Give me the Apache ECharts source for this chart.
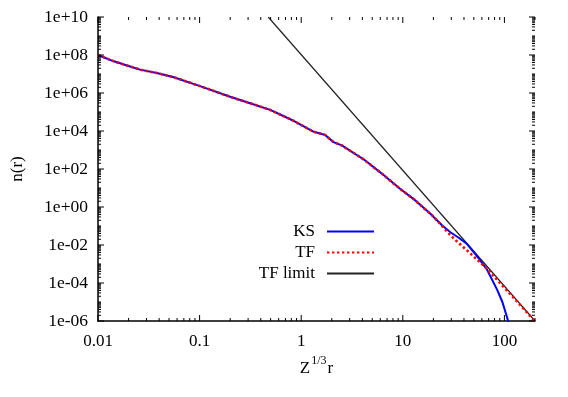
<!DOCTYPE html>
<html>
<head>
<meta charset="utf-8">
<script src="https://cdn.jsdelivr.net/npm/echarts@6/dist/echarts.min.js"></script>
<style>html,body{margin:0;padding:0;background:#fff;}#c{width:568px;height:397px;}</style>
</head>
<body>
<div id="c"></div>
<script>
// Data (x = Z^{1/3} r, y = n(r))
var ksX = [0.01, 0.0141, 0.0207, 0.0259, 0.0379, 0.0548, 0.101, 0.2, 0.314, 0.495, 0.81, 1.33, 1.6, 1.72, 2.08, 2.51, 3.81, 4.11, 6.47, 9.44, 12.8, 18.7, 20.1, 24.3, 29.4, 35.5, 42.9, 53.7, 67.5, 84.7, 95.5, 106, 110];
var ksY = [1.0e8, 4.8e7, 2.5e7, 1.7e7, 1.12e7, 7.0e6, 2.3e6, 6.3e5, 2.9e5, 1.3e5, 3.8e4, 9.1e3, 6.9e3, 6.2e3, 2.6e3, 1.74e3, 417, 324, 48, 8.9, 2.6, 0.44, 0.30, 0.11, 0.047, 0.024, 0.0112, 0.0026, 5.0e-4, 4.5e-5, 1.0e-5, 1.6e-6, 8e-7];
var tfX = [0.01, 0.0141, 0.0207, 0.0259, 0.0379, 0.0548, 0.101, 0.2, 0.314, 0.495, 0.81, 1.33, 1.6, 1.72, 2.08, 2.51, 3.81, 4.11, 6.47, 9.44, 12.8, 15.8, 20.1, 25.1, 31.6, 46.2, 67.5, 91.2, 133, 195, 200];
var tfY = [1.0e8, 4.8e7, 2.5e7, 1.7e7, 1.12e7, 7.0e6, 2.3e6, 6.3e5, 2.9e5, 1.3e5, 3.8e4, 9.1e3, 6.9e3, 6.2e3, 2.6e3, 1.74e3, 417, 324, 48, 8.9, 2.6, 0.95, 0.31, 0.083, 0.0224, 0.0036, 5.6e-4, 9.5e-5, 1.07e-5, 1.1e-6, 9.1e-7];
var limX = [0.473, 200];
var limY = [1e10, 1e-6];
var seriesNames = ['KS', 'TF', 'TF limit'];
var xMin = 0.01, xMax = 200, yMin = 1e-6, yMax = 1e10;

function pairs(xs, ys) { var out = []; for (var i = 0; i < xs.length; i++) out.push([xs[i], ys[i]]); return out; }

// tick positions (axis decoration)
var xTicks = [];
for (var k = -2; k <= 2; k++) {
  for (var m = 1; m <= 9; m++) {
    var v = m * Math.pow(10, k);
    if (v > xMax * 1.0001) continue;
    xTicks.push([v, yMin, m === 1 ? 1 : 0]);
  }
}
var yTicks = [];
for (var k2 = -6; k2 <= 10; k2++) {
  for (var m2 = 1; m2 <= 9; m2++) {
    if (k2 === 10 && m2 > 1) continue;
    var v2 = m2 * Math.pow(10, k2);
    var major = (m2 === 1 && k2 % 2 === 0) ? 1 : 0;
    yTicks.push([xMin, v2, major]);
  }
}

var FONT = 'Liberation Serif';
function isPow10(v) { var l = Math.log10(v); return Math.abs(l - Math.round(l)) < 1e-6; }

var chart = echarts.init(document.getElementById('c'), null, { renderer: 'canvas' });
var legendCommon = {
  orient: 'vertical', align: 'right', itemWidth: 47, itemHeight: 12,
  itemStyle: { opacity: 0 },
  textStyle: { fontFamily: FONT, fontSize: 17, color: '#000', padding: [0, 7, 0, 0] },
  selectedMode: false, padding: 0
};
chart.setOption({
  animation: false,
  backgroundColor: '#fff',
  grid: { left: 98, right: 33, top: 17, bottom: 76, containLabel: false },
  legend: [
    Object.assign({ data: [seriesNames[0]], right: 193, top: 223 }, legendCommon),
    Object.assign({ data: [seriesNames[1]], right: 193, top: 244 }, legendCommon),
    Object.assign({ data: [seriesNames[2]], right: 193, top: 265 }, legendCommon)
  ],
  xAxis: {
    type: 'log', logBase: 10, min: xMin, max: xMax,
    axisLine: { show: true, onZero: false, lineStyle: { color: '#000', width: 1.5 } },
    axisTick: { show: false },
    splitLine: { show: false },
    axisLabel: {
      fontFamily: FONT, fontSize: 17, color: '#000', margin: 12, showMaxLabel: false,
      formatter: function (v) {
        if (!isPow10(v)) return '';
        var e = Math.round(Math.log10(v));
        return e < 0 ? Math.pow(10, e).toFixed(-e) : String(Math.pow(10, e));
      }
    },
    name: '{a|Z}{s|1/3}{a|r}', nameLocation: 'middle', nameGap: 27,
    nameTextStyle: {
      rich: {
        a: { fontFamily: FONT, fontSize: 17, color: '#000', lineHeight: 22, verticalAlign: 'bottom' },
        s: { fontFamily: FONT, fontSize: 12, color: '#000', lineHeight: 22, verticalAlign: 'top', padding: [0, 1, 0, 1] }
      }
    }
  },
  yAxis: {
    type: 'log', logBase: 10, min: yMin, max: yMax, interval: 2,
    axisLine: { show: true, onZero: false, lineStyle: { color: '#000', width: 1.5 } },
    axisTick: { show: false },
    splitLine: { show: false },
    axisLabel: {
      fontFamily: FONT, fontSize: 17.5, color: '#000', margin: 10,
      formatter: function (v) {
        var e = Math.round(Math.log10(v));
        var s = Math.abs(e) < 10 ? '0' + Math.abs(e) : String(Math.abs(e));
        return '1e' + (e < 0 ? '-' : '+') + s;
      }
    },
    name: 'n(r)', nameLocation: 'middle', nameGap: 72, nameRotate: 90,
    nameTextStyle: { fontFamily: FONT, fontSize: 17, color: '#000' }
  },
  series: [
    {
      name: seriesNames[0], type: 'line', data: pairs(ksX, ksY), showSymbol: false, symbol: 'none',
      lineStyle: { color: '#0000ff', width: 2 }, itemStyle: { color: '#0000ff' }, z: 3, clip: true
    },
    {
      name: seriesNames[1], type: 'line', data: pairs(tfX, tfY), showSymbol: false, symbol: 'none',
      lineStyle: { color: '#ff0000', width: 2.6, type: [2.4, 2.6] }, itemStyle: { color: '#ff0000' }, z: 4, clip: true
    },
    {
      name: seriesNames[2], type: 'line', data: pairs(limX, limY), showSymbol: false, symbol: 'none',
      lineStyle: { color: '#222', width: 1.2 }, itemStyle: { color: '#222' }, z: 2, clip: true
    },
    {
      type: 'custom', silent: true, data: xTicks, clip: false, z: 5,
      renderItem: function (params, api) {
        var v = api.value(0), len = api.value(2) ? 6 : 3;
        var b = api.coord([v, yMin]), t = api.coord([v, yMax]);
        var st = { stroke: '#000', lineWidth: 1 };
        return { type: 'group', children: [
          { type: 'line', shape: { x1: b[0], y1: b[1], x2: b[0], y2: b[1] - len }, style: st },
          { type: 'line', shape: { x1: t[0], y1: t[1], x2: t[0], y2: t[1] + len }, style: st }
        ] };
      }
    },
    {
      type: 'custom', silent: true, data: yTicks, clip: false, z: 5,
      renderItem: function (params, api) {
        var v = api.value(1), len = api.value(2) ? 6 : 3;
        var l = api.coord([xMin, v]), r = api.coord([xMax, v]);
        var st = { stroke: '#000', lineWidth: 1 };
        return { type: 'group', children: [
          { type: 'line', shape: { x1: l[0], y1: l[1], x2: l[0] + len, y2: l[1] }, style: st },
          { type: 'line', shape: { x1: r[0], y1: r[1], x2: r[0] - len, y2: r[1] }, style: st }
        ] };
      }
    }
  ]
});
</script>
</body>
</html>
